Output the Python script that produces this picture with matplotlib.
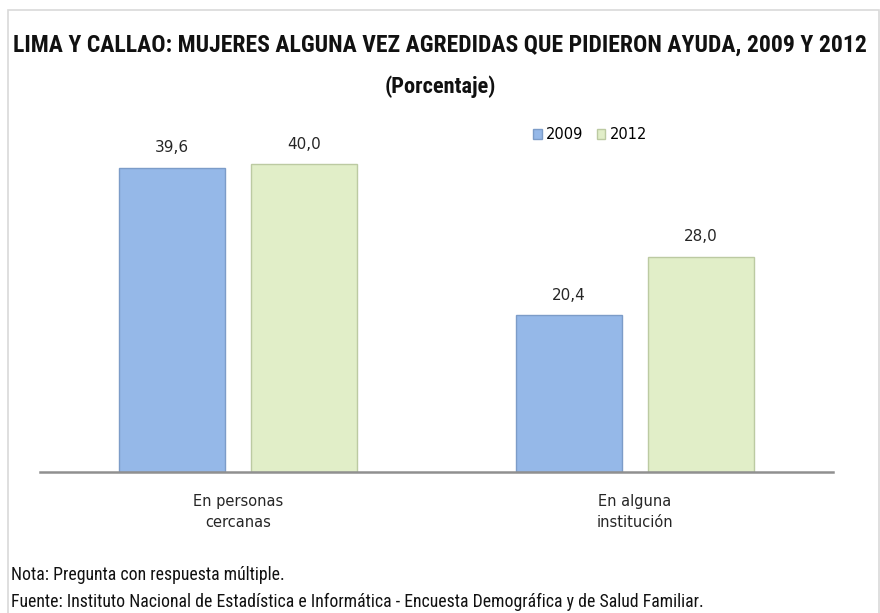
import matplotlib
matplotlib.use("Agg")
from matplotlib import pyplot as plt
from matplotlib.patches import Rectangle
import numpy as np

categories = ["En personas\ncercanas", "En alguna\ninstitución"]
years = ["2009", "2012"]
values_2009 = [39.6, 20.4]
values_2012 = [40.0, 28.0]

title = "LIMA Y CALLAO: MUJERES ALGUNA VEZ AGREDIDAS QUE PIDIERON AYUDA, 2009 Y 2012"
subtitle = "(Porcentaje)"
note = "Nota: Pregunta con respuesta múltiple."
source = "Fuente: Instituto Nacional de Estadística e Informática - Encuesta Demográfica y de Salud Familiar."

narrow = ["Roboto Condensed", "DejaVu Sans"]
body = ["DejaVu Sans"]

W, H = 880, 613
fig = plt.figure(figsize=(W / 100, H / 100), dpi=100)
renderer = fig.canvas.get_renderer()


def fit_text(t, target_px):
    # scale the font so the text spans the width seen in the reference
    w = t.get_window_extent(renderer).width
    t.set_fontsize(t.get_fontsize() * target_px / w)


# outer frame
fig.patches.append(Rectangle((8 / W, -0.05), 871 / W, 1.05 - 10 / H, transform=fig.transFigure,
                             fill=False, edgecolor="#d9d9d9", linewidth=1.2))

ax = fig.add_axes([40 / W, (H - 472) / H, 793 / W, (472 - 126) / H])
x = np.arange(len(categories))
width = 0.267
offset = 0.1665
bars1 = ax.bar(x - offset, values_2009, width, color="#95b8e8", edgecolor="#7c9cc8",
               linewidth=1.0, label=years[0])
bars2 = ax.bar(x + offset, values_2012, width, color="#e1eec8", edgecolor="#bccaa2",
               linewidth=1.0, label=years[1])

for bars in (bars1, bars2):
    for b in bars:
        ax.text(b.get_x() + b.get_width() / 2, b.get_height() + 1.6,
                f"{b.get_height():.1f}".replace(".", ","),
                ha="center", va="bottom", fontsize=11, color="#262626", family=body)

ax.set_xlim(-0.5, 1.5)
ax.set_ylim(0, 45)
ax.set_xticks(x)
ax.set_xticklabels(categories, fontsize=10.5, family=body, color="#262626", linespacing=1.45)
ax.tick_params(axis="x", length=0, pad=16)
ax.set_yticks([])
for s in ("top", "right", "left"):
    ax.spines[s].set_visible(False)
ax.spines["bottom"].set_color("#909090")
ax.spines["bottom"].set_linewidth(1.8)

ax.legend(loc="upper left", bbox_to_anchor=(0.605, 1.035), ncol=2, frameon=False,
          handlelength=0.6, handleheight=0.6, handletextpad=0.3,
          columnspacing=0.9, prop={"family": body, "size": 10.5})

t = fig.text(0.5, (H - 45) / H, title, ha="center", va="center", fontsize=15,
             fontweight="bold", family=narrow, color="#111111")
fit_text(t, 856)
t = fig.text(0.5, (H - 87) / H, subtitle, ha="center", va="center", fontsize=12,
             fontweight="bold", family=narrow, color="#111111")
fit_text(t, 112)
src = fig.text(11 / W, (H - 602) / H, source, ha="left", va="center", fontsize=10,
               family=narrow, color="#111111")
fit_text(src, 690)
fig.text(11 / W, (H - 575) / H, note, ha="left", va="center", fontsize=src.get_fontsize(),
         family=narrow, color="#111111")

fig.savefig("out.png", dpi=100)
